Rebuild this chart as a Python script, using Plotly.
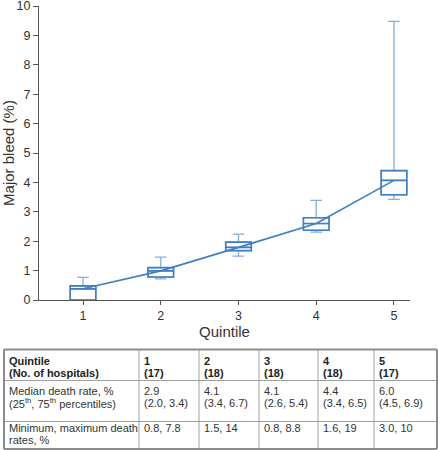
import plotly.graph_objects as go

quintiles = [1, 2, 3, 4, 5]
q1 = [0.0, 0.78, 1.68, 2.37, 3.58]
median = [0.38, 0.99, 1.79, 2.60, 4.07]
q3 = [0.48, 1.10, 1.97, 2.80, 4.40]
lower = [0.0, 0.72, 1.49, 2.31, 3.42]
upper = [0.77, 1.46, 2.24, 3.39, 9.48]

x_ticks = [1, 2, 3, 4, 5]
y_ticks = [0, 1, 2, 3, 4, 5, 6, 7, 8, 9, 10]

header_label = ["Quintile", "(No. of hospitals)"]
hospital_counts = ["(17)", "(18)", "(18)", "(18)", "(17)"]
row1_label = ["Median death rate, %", "(25<sup>th</sup>, 75<sup>th</sup> percentiles)"]
median_rates = ["2.9", "4.1", "4.1", "4.4", "6.0"]
iqr_rates = ["(2.0, 3.4)", "(3.4, 6.7)", "(2.6, 5.4)", "(3.4, 6.5)", "(4.5, 6.9)"]
row2_label = ["Minimum, maximum death", "rates, %"]
minmax_rates = ["0.8, 7.8", "1.5, 14", "0.8, 8.8", "1.6, 19", "3.0, 10"]

W, H = 438, 450
FONT = "Liberation Sans, Arial, sans-serif"
BOX_COLOR = "#3f7fc1"
WHISKER_COLOR = "#86aedb"

fig = go.Figure()

fig.add_trace(go.Box(
    x=quintiles, q1=q1, median=median, q3=q3,
    lowerfence=lower, upperfence=upper,
    width=0.33, whiskerwidth=0.45,
    line=dict(color=WHISKER_COLOR, width=1.3),
    fillcolor="white", showlegend=False, hoverinfo="skip",
))
fig.add_trace(go.Box(
    x=quintiles, q1=q1, median=median, q3=q3,
    lowerfence=q1, upperfence=q3,
    width=0.33, whiskerwidth=0.0,
    line=dict(color=BOX_COLOR, width=1.6),
    fillcolor="rgba(255,255,255,0)", showlegend=False,
))
fig.add_trace(go.Scatter(
    x=quintiles, y=median, mode="lines",
    line=dict(color=BOX_COLOR, width=1.6),
    showlegend=False,
))

# ---- table drawn with shapes + annotations (pixel geometry -> paper coords)
col_edges = [4, 139, 199, 259, 318, 374, 437]
row_edges = [349.5, 380.5, 421.5, 449]
line_offsets = [(11, 23.5), (10.5, 22.5), (6.5, 18)]  # line centres below row top
PAD = 4


def px(xp):
    return xp / W


def py(yp):
    return 1 - yp / H


shapes = []
for i, ye in enumerate(row_edges):
    outer = i in (0, len(row_edges) - 1)
    shapes.append(dict(type="line", xref="paper", yref="paper",
                       x0=px(col_edges[0]), x1=px(col_edges[-1]), y0=py(ye), y1=py(ye),
                       line=dict(color="#8c8c8c" if outer else "#a0a0a0", width=2 if outer else 1)))
for j, xe in enumerate(col_edges):
    outer = j in (0, len(col_edges) - 1)
    shapes.append(dict(type="line", xref="paper", yref="paper",
                       x0=px(xe), x1=px(xe), y0=py(row_edges[0]), y1=py(row_edges[-1]),
                       line=dict(color="#8c8c8c" if outer else "#a0a0a0", width=2 if outer else 1)))

table_cols = [
    [header_label, row1_label, row2_label],
]
for k in range(5):
    table_cols.append([[str(quintiles[k]), hospital_counts[k]],
                       [median_rates[k], iqr_rates[k]],
                       [minmax_rates[k]]])

annotations = []
for c, col in enumerate(table_cols):
    for r, lines in enumerate(col):
        for li, txt in enumerate(lines):
            t = "<b>" + txt + "</b>" if r == 0 else txt
            annotations.append(dict(
                xref="paper", yref="paper",
                x=px(col_edges[c] + PAD), y=py(row_edges[r] + line_offsets[r][li]),
                xanchor="left", yanchor="middle", showarrow=False, borderpad=0,
                text=t, font=dict(family=FONT, size=11, color="#222" if r == 0 else "#333"),
            ))

fig.update_layout(
    width=W, height=H,
    margin=dict(l=0, r=0, t=0, b=0),
    paper_bgcolor="white", plot_bgcolor="white",
    boxmode="overlay",
    font=dict(family=FONT, size=12.5, color="#333"),
    shapes=shapes, annotations=annotations,
    xaxis=dict(
        domain=[39 / W, 410 / W],
        range=[0.434, 5.206], tickvals=x_ticks, ticks="outside", ticklen=4,
        tickcolor="#555", showline=True, linecolor="#555", linewidth=1,
        showgrid=False, zeroline=False, automargin=False,
        ticklabeloverflow="allow",
        title=dict(text="Quintile", standoff=3),
    ),
    yaxis=dict(
        domain=[1 - 300 / H, 1 - 6 / H], range=[0, 10], tickvals=y_ticks,
        ticks="outside", ticklen=5, tickcolor="#555",
        showline=True, linecolor="#555", linewidth=1,
        showgrid=False, zeroline=False, automargin=False,
        ticklabeloverflow="allow",
        title=dict(text="Major bleed (%)", standoff=3),
    ),
)

fig.write_html("out.html",
               config={"displayModeBar": False},
               post_script="document.body.style.margin='0';document.body.style.overflow='hidden';")
